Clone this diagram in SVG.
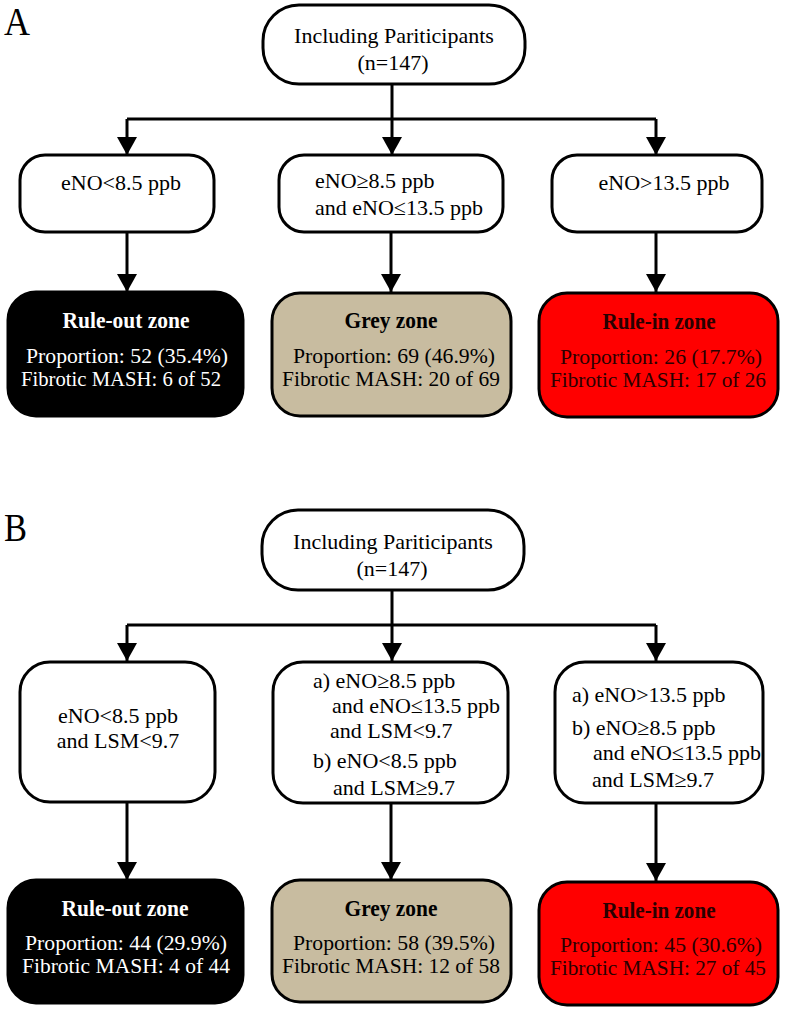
<svg xmlns="http://www.w3.org/2000/svg" width="788" height="1011" viewBox="0 0 788 1011">
<defs>
<marker id="arr" markerUnits="userSpaceOnUse" markerWidth="20" markerHeight="20" viewBox="0 0 20 20" refX="18" refY="10" orient="auto">
<path d="M0,0 L18,10 L0,20 Z" fill="#000"/>
</marker>
<style>
text{font-family:"Liberation Serif","Times New Roman",serif;font-size:22px;fill:#000}
.c{text-anchor:middle}
.z{font-size:22px}
.t{font-weight:bold;font-size:23px}
.w{fill:#fff}
.r{fill:#2a0000}
.lbl{font-size:40px}
.box{fill:#fff;stroke:#000;stroke-width:3}
.blk{fill:#000;stroke:#000;stroke-width:3}
.tan{fill:#c8bca0;stroke:#000;stroke-width:3}
.red{fill:#ff0000;stroke:#000;stroke-width:3}
.ln{fill:none;stroke:#000;stroke-width:3}
.ar{fill:none;stroke:#000;stroke-width:3;marker-end:url(#arr)}
</style>
</defs>
<rect width="788" height="1011" fill="#fff"/>

<text class="lbl" x="4" y="35" textLength="26" lengthAdjust="spacingAndGlyphs">A</text>
<text class="lbl" x="4" y="541" textLength="23" lengthAdjust="spacingAndGlyphs">B</text>

<g id="connectors">
<!-- Panel A -->
<path class="ln" d="M392,84 V119 M127,119 H656"/>
<path class="ar" d="M127,119 V155"/>
<path class="ar" d="M392,119 V155"/>
<path class="ar" d="M656,119 V155"/>
<path class="ar" d="M127,232 V292"/>
<path class="ar" d="M391,232 V292"/>
<path class="ar" d="M656,232 V292"/>
<!-- Panel B -->
<path class="ln" d="M392,590 V625 M127,625 H656"/>
<path class="ar" d="M127,625 V661"/>
<path class="ar" d="M392,625 V661"/>
<path class="ar" d="M656,625 V661"/>
<path class="ar" d="M127,802 V880"/>
<path class="ar" d="M391,803 V880"/>
<path class="ar" d="M656,803 V881"/>
</g>

<!-- Panel A nodes -->
<g id="a-top">
<rect class="box" x="263" y="5" width="262" height="79" rx="36" ry="36"/>
<text class="c" x="394" y="43">Including Pariticipants</text>
<text class="c" x="393" y="70">(n=147)</text>
</g>
<g id="a-low">
<rect class="box" x="20" y="155" width="194" height="77" rx="25" ry="25"/>
<text class="c" x="121" y="190">eNO&lt;8.5 ppb</text>
</g>
<g id="a-mid">
<rect class="box" x="279" y="155" width="224" height="77" rx="25" ry="25"/>
<text x="315" y="188">eNO≥8.5 ppb</text>
<text x="315" y="215">and eNO≤13.5 ppb</text>
</g>
<g id="a-high">
<rect class="box" x="552" y="155" width="210" height="77" rx="25" ry="25"/>
<text class="c" x="664" y="190">eNO&gt;13.5 ppb</text>
</g>
<g id="a-ruleout">
<rect class="blk" x="8" y="292" width="235" height="124" rx="28" ry="28"/>
<text class="c t w" x="126" y="328" textLength="127" lengthAdjust="spacingAndGlyphs">Rule-out zone</text>
<text class="c z w" x="127" y="363" textLength="202" lengthAdjust="spacingAndGlyphs">Proportion: 52 (35.4%)</text>
<text class="c z w" x="121" y="386" textLength="200" lengthAdjust="spacingAndGlyphs">Fibrotic MASH: 6 of 52</text>
</g>
<g id="a-grey">
<rect class="tan" x="272" y="293" width="239" height="123" rx="28" ry="28"/>
<text class="c t" x="391" y="328" textLength="93" lengthAdjust="spacingAndGlyphs">Grey zone</text>
<text class="c z" x="394" y="363" textLength="202" lengthAdjust="spacingAndGlyphs">Proportion: 69 (46.9%)</text>
<text class="c z" x="391" y="386" textLength="218" lengthAdjust="spacingAndGlyphs">Fibrotic MASH: 20 of 69</text>
</g>
<g id="a-rulein">
<rect class="red" x="539" y="293" width="239" height="124" rx="28" ry="28"/>
<text class="c t r" x="659" y="329" textLength="113" lengthAdjust="spacingAndGlyphs">Rule-in zone</text>
<text class="c z r" x="661" y="364" textLength="202" lengthAdjust="spacingAndGlyphs">Proportion: 26 (17.7%)</text>
<text class="c z r" x="658" y="387" textLength="216" lengthAdjust="spacingAndGlyphs">Fibrotic MASH: 17 of 26</text>
</g>

<!-- Panel B nodes -->
<g id="b-top">
<rect class="box" x="262" y="510" width="262" height="80" rx="36" ry="36"/>
<text class="c" x="393" y="549">Including Pariticipants</text>
<text class="c" x="392" y="576">(n=147)</text>
</g>
<g id="b-low">
<rect class="box" x="20" y="662" width="195" height="140" rx="30" ry="30"/>
<text class="c" x="118" y="723">eNO&lt;8.5 ppb</text>
<text class="c" x="118" y="748">and LSM&lt;9.7</text>
</g>
<g id="b-mid">
<rect class="box" x="273" y="662" width="235" height="141" rx="30" ry="30"/>
<text x="313" y="688">a) eNO≥8.5 ppb</text>
<text x="332" y="713">and eNO≤13.5 ppb</text>
<text x="330" y="738">and LSM&lt;9.7</text>
<text x="313" y="768">b) eNO&lt;8.5 ppb</text>
<text x="333" y="795">and LSM≥9.7</text>
</g>
<g id="b-high">
<rect class="box" x="555" y="662" width="208" height="141" rx="30" ry="30"/>
<text x="572" y="702">a) eNO&gt;13.5 ppb</text>
<text x="572" y="735">b) eNO≥8.5 ppb</text>
<text x="593" y="760">and eNO≤13.5 ppb</text>
<text x="592" y="787">and LSM≥9.7</text>
</g>
<g id="b-ruleout">
<rect class="blk" x="8" y="880" width="235" height="123" rx="28" ry="28"/>
<text class="c t w" x="125" y="916" textLength="127" lengthAdjust="spacingAndGlyphs">Rule-out zone</text>
<text class="c z w" x="126" y="950" textLength="202" lengthAdjust="spacingAndGlyphs">Proportion: 44 (29.9%)</text>
<text class="c z w" x="126" y="973" textLength="208" lengthAdjust="spacingAndGlyphs">Fibrotic MASH: 4 of 44</text>
</g>
<g id="b-grey">
<rect class="tan" x="272" y="880" width="239" height="122" rx="28" ry="28"/>
<text class="c t" x="391" y="916" textLength="93" lengthAdjust="spacingAndGlyphs">Grey zone</text>
<text class="c z" x="394" y="950" textLength="202" lengthAdjust="spacingAndGlyphs">Proportion: 58 (39.5%)</text>
<text class="c z" x="391" y="973" textLength="218" lengthAdjust="spacingAndGlyphs">Fibrotic MASH: 12 of 58</text>
</g>
<g id="b-rulein">
<rect class="red" x="539" y="882" width="239" height="123" rx="28" ry="28"/>
<text class="c t r" x="659" y="918" textLength="113" lengthAdjust="spacingAndGlyphs">Rule-in zone</text>
<text class="c z r" x="661" y="952" textLength="202" lengthAdjust="spacingAndGlyphs">Proportion: 45 (30.6%)</text>
<text class="c z r" x="658" y="975" textLength="216" lengthAdjust="spacingAndGlyphs">Fibrotic MASH: 27 of 45</text>
</g>
</svg>
